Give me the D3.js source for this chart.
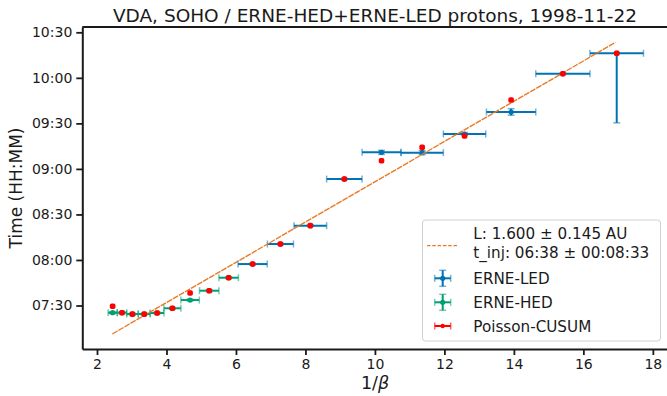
<!DOCTYPE html>
<html><head><meta charset="utf-8">
<script src="https://cdn.jsdelivr.net/npm/d3@7"></script>
<style>body{margin:0;background:#fff}svg{display:block}text{font-family:"DejaVu Sans",sans-serif;fill:#1a1a1a}</style>
</head><body><svg id="c" width="667" height="396"></svg>
<script>
// ---- data ----
const titleText = "VDA, SOHO / ERNE-HED+ERNE-LED protons, 1998-11-22";
const xTicks = [2, 4, 6, 8, 10, 12, 14, 16, 18];
const yTicks = ["07:30", "08:00", "08:30", "09:00", "09:30", "10:00", "10:30"];

// ERNE-HED
const hedX    = [2.45, 2.72, 3.02, 3.36, 3.73, 4.17, 4.68, 5.23, 5.79];
const hedXerr = [0.13, 0.135, 0.165, 0.17, 0.2, 0.245, 0.265, 0.28, 0.28];
const hedT    = ["07:25:16","07:25:16","07:24:24","07:24:24","07:25:04","07:28:10","07:33:36","07:39:45","07:48:18"];
const hedTerrS= [40, 40, 40, 40, 40, 40, 40, 40, 40];

// ERNE-LED
const ledX    = [6.48, 7.28, 8.14, 9.12, 10.19, 11.36, 12.58, 13.92, 15.41, 16.96];
const ledXerr = [0.42, 0.375, 0.47, 0.51, 0.56, 0.61, 0.61, 0.71, 0.78, 0.77];
const ledT    = ["07:57:18","08:10:30","08:22:36","08:53:18","09:10:54","09:10:42","09:23:00","09:37:30","10:02:42","10:16:12"];
const ledTerrLoS = [30, 30, 30, 30, 80, 80, 60, 130, 30, 2750];
const ledTerrHiS = [30, 30, 30, 30, 80, 80, 60, 130, 30, 0];

// Poisson-CUSUM
const pcX = [2.45, 2.72, 3.02, 3.36, 3.73, 4.17, 4.68, 5.23, 5.79, 6.48, 7.28, 8.14, 9.12, 10.19, 11.36, 12.58, 13.92, 15.41, 16.96];
const pcT = ["07:29:30","07:25:16","07:24:18","07:24:18","07:25:04","07:28:10","07:38:12","07:39:45","07:48:18","07:57:18","08:10:30","08:22:36","08:53:18","09:05:24","09:14:12","09:21:42","09:45:24","10:02:42","10:16:12"];
const pcXerr = 0.04;

// fit line
const fitX = [2.44, 16.92];
const fitT = ["07:11:13", "10:23:18"];
const fitLabel = ["L: 1.600 ± 0.145 AU", "t_inj: 06:38 ± 00:08:33"];
const legendNames = ["ERNE-LED", "ERNE-HED", "Poisson-CUSUM"];

// ---- helpers ----
const T = s => { const p = s.split(":").map(Number); return new Date(Date.UTC(1998,10,22,p[0],p[1],p[2]||0)); };
const addS = (d, s) => new Date(d.getTime() + s*1000);

const cBlue = "#0173b2", cGreen = "#029e73", cOrange = "#ea7a26", cRed = "#ff0000";

const svg = d3.select("#c");
const x = d3.scaleLinear().domain([1.577, 18.436]).range([82.3, 668]);
const y = d3.scaleUtc().domain([T("07:01:20"), T("10:33:30")]).range([349, 27]);

// title
svg.append("text").attr("x", 375).attr("y", 21.5).attr("text-anchor","middle")
  .style("font-size","18.5px").text(titleText);

// axes
const ax = svg.append("g").attr("transform","translate(0,349)")
  .call(d3.axisBottom(x).tickValues(xTicks).tickFormat(d3.format("d")).tickSize(6).tickPadding(4).tickSizeOuter(0));
const ay = svg.append("g").attr("transform","translate(82.3,0)")
  .call(d3.axisLeft(y).tickValues(yTicks.map(T)).tickFormat(d3.utcFormat("%H:%M")).tickSize(6).tickPadding(4).tickSizeOuter(0));
[ax, ay].forEach(g => {
  g.select(".domain").attr("stroke","#1a1a1a").attr("stroke-width",2);
  g.selectAll(".tick line").attr("stroke","#1a1a1a").attr("stroke-width",1.8);
  g.selectAll(".tick text").style("font-size","14px").attr("fill","#1a1a1a");
});
svg.append("line").attr("x1",82.3).attr("x2",668).attr("y1",27).attr("y2",27).attr("stroke","#1a1a1a").attr("stroke-width",2);

// labels
const xl = svg.append("text").attr("x", 375).attr("y", 389).attr("text-anchor","middle").style("font-size","17.5px");
xl.append("tspan").text("1/");
xl.append("tspan").style("font-style","italic").text("β");
svg.append("text").attr("transform","translate(22,188) rotate(-90)").attr("text-anchor","middle")
  .style("font-size","17px").text("Time (HH:MM)");

// error bar drawer
function errbar(g, cx, cy, x0, x1, y0, y1, col, cap, r, capOp) {
  g.append("line").attr("x1",x0).attr("x2",x1).attr("y1",cy).attr("y2",cy).attr("stroke",col).attr("stroke-width",2);
  if (y0 !== y1) g.append("line").attr("x1",cx).attr("x2",cx).attr("y1",y0).attr("y2",y1).attr("stroke",col).attr("stroke-width",2);
  [x0, x1].forEach(xx => g.append("line").attr("x1",xx).attr("x2",xx).attr("y1",cy-cap).attr("y2",cy+cap)
     .attr("stroke",col).attr("stroke-width",1.5).attr("stroke-opacity",capOp));
  [y0, y1].forEach(yy => g.append("line").attr("x1",cx-cap).attr("x2",cx+cap).attr("y1",yy).attr("y2",yy)
     .attr("stroke",col).attr("stroke-width",1.5).attr("stroke-opacity",capOp));
  g.append("circle").attr("cx",cx).attr("cy",cy).attr("r",r).attr("fill",col);
}

const plot = svg.append("g");
ledX.forEach((v,i) => {
  const t = T(ledT[i]);
  errbar(plot, x(v), y(t), x(v-ledXerr[i]), x(v+ledXerr[i]), y(addS(t,-ledTerrLoS[i])), y(addS(t,ledTerrHiS[i])), cBlue, 3.5, 2.6, 0.55);
});
hedX.forEach((v,i) => {
  const t = T(hedT[i]);
  errbar(plot, x(v), y(t), x(v-hedXerr[i]), x(v+hedXerr[i]), y(addS(t,-hedTerrS[i])), y(addS(t,hedTerrS[i])), cGreen, 3.5, 2.6, 0.55);
});

// fit line
plot.append("line").attr("x1",x(fitX[0])).attr("y1",y(T(fitT[0]))).attr("x2",x(fitX[1])).attr("y2",y(T(fitT[1])))
  .attr("stroke",cOrange).attr("stroke-width",1.4).attr("stroke-dasharray","6,1");

// Poisson-CUSUM
pcX.forEach((v,i) => {
  const t = T(pcT[i]);
  plot.append("line").attr("x1",x(v-pcXerr)).attr("x2",x(v+pcXerr)).attr("y1",y(t)).attr("y2",y(t)).attr("stroke",cRed).attr("stroke-width",2);
  plot.append("rect").attr("x",x(v)-2.8).attr("y",y(t)-2.8).attr("width",5.6).attr("height",5.6).attr("rx",1.8).attr("fill",cRed);
});

// legend
const lg = svg.append("g");
lg.append("rect").attr("x",422.5).attr("y",220).attr("width",238).attr("height",121).attr("rx",3)
  .attr("fill","#fff").attr("fill-opacity",0.85).attr("stroke","#d0d0d0").attr("stroke-width",1);
lg.append("line").attr("x1",427).attr("x2",458).attr("y1",245.7).attr("y2",245.7)
  .attr("stroke",cOrange).attr("stroke-width",1.3).attr("stroke-dasharray","3.5,1.8");
lg.append("text").attr("x",473.3).attr("y",239).style("font-size","15.2px").text(fitLabel[0]);
lg.append("text").attr("x",473.3).attr("y",258).style("font-size","15.2px").text(fitLabel[1]);
const hy = [278.3, 302.3];
[cBlue, cGreen].forEach((c,i) => errbar(lg, 442.7, hy[i], 434.7, 450.7, hy[i]-8, hy[i]+8, c, 3.5, 2.6, 0.55));
errbar(lg, 442.7, 326, 434.7, 450.7, 326, 326, cRed, 3.5, 2.2, 0.6);
[283.5, 307.5, 331.5].forEach((yy,i) => lg.append("text").attr("x",473.3).attr("y",yy).style("font-size","15.2px").text(legendNames[i]));
</script></body></html>
